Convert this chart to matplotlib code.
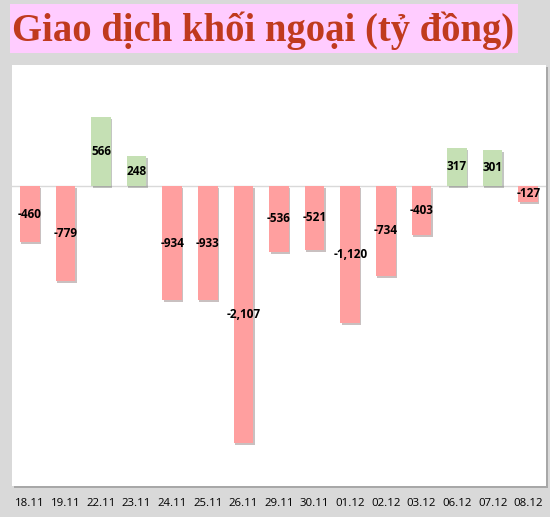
import matplotlib.pyplot as plt
import matplotlib.patheffects as pe
from matplotlib.patches import Rectangle

dates = ["18.11", "19.11", "22.11", "23.11", "24.11", "25.11", "26.11", "29.11",
         "30.11", "01.12", "02.12", "03.12", "06.12", "07.12", "08.12"]
values = [-460, -779, 566, 248, -934, -933, -2107, -536,
          -521, -1120, -734, -403, 317, 301, -127]

RED = "#ff9f9f"
GREEN = "#c5e0b4"
BG = "#d9d9d9"

fig = plt.figure(figsize=(5.5, 5.17), dpi=100, facecolor=BG)

# pink title box
fig.patches.append(Rectangle((10 / 550, 1 - 53 / 517), 508 / 550, 49 / 517,
                             transform=fig.transFigure, facecolor="#ffccff",
                             edgecolor="none"))
fig.text(12 / 550, 1 - 31 / 517, "Giao dịch khối ngoại (tỷ đồng)",
         family="Liberation Serif", weight="bold", size=27.8, color="#c03a1e",
         va="center", ha="left")

ax = fig.add_axes([12 / 550, 31 / 517, 534 / 550, 421 / 517])
ax.patch.set_path_effects([pe.SimplePatchShadow(offset=(1.5, -1.5), alpha=0.35),
                           pe.Normal()])
for s in ax.spines.values():
    s.set_visible(False)

x = list(range(len(dates)))
colors = [GREEN if v > 0 else RED for v in values]
bars = ax.bar(x, values, width=0.55, color=colors, zorder=3)
for b in bars:
    b.set_path_effects([pe.SimplePatchShadow(offset=(1, -1.5), alpha=0.3),
                        pe.Normal()])
ax.axhline(0, color="#d9d9d9", lw=1, zorder=2)

for xi, v in zip(x, values):
    ax.text(xi, v / 2, f"{v:,}", ha="center", va="center", fontsize=8.5,
            weight="bold", family="Open Sans", color="black", zorder=4)

ax.set_xlim(-0.5, len(dates) - 0.5)
ax.set_ylim(-2460, 995)
ax.set_yticks([])
ax.set_xticks(x)
ax.set_xticklabels(dates, family="Open Sans", fontsize=8.2)
ax.tick_params(axis="x", length=0, pad=9)

fig.savefig("out.png", dpi=100, facecolor=BG)
